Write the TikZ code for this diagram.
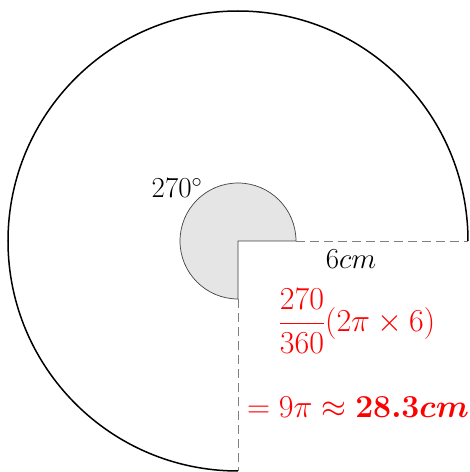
\RequirePackage{fix-cm}
\documentclass[tikz,border=0pt]{standalone}
\usepackage{amsmath,bm}
\begin{document}
\begin{tikzpicture}[x=1pt,y=1pt,
  outer/.style={line width=1.5pt,black},
  sector/.style={fill=gray!20,draw=black!75,line width=0.7pt},
  radius line/.style={gray,line width=0.8pt,dash pattern=on 9pt off 5pt},
  lbl/.style={black,font=\fontsize{29}{34}\selectfont,inner sep=0pt},
  redlbl/.style={red,font=\fontsize{32}{37}\selectfont,inner sep=0pt}]
\useasboundingbox (0,0) rectangle (470,472);
\coordinate (O) at (238,231);
\coordinate (A) at (468,231);
\coordinate (B) at (238,1);
\coordinate (a) at (296,231);
\coordinate (b) at (238,173);
% outer arc
\draw[outer] (A) arc[start angle=0,end angle=270,radius=230];
% small sector
\draw[sector] (O) -- (a) arc[start angle=0,end angle=270,radius=58] -- cycle;
% radii
\draw[radius line] (a) -- (A);
\draw[radius line] (b) -- (B);
% labels
\node[lbl] (ang) at (177,284) {$270^\circ$};
\node[lbl] (len) at (351,213) {$6cm$};
\node[redlbl] (frac) at (357,151) {$\dfrac{270}{360}(2\pi\times 6)$};
\node[redlbl] (res) at (358,65) {$=9\pi\approx\bm{28.3cm}$};
\end{tikzpicture}
\end{document}
